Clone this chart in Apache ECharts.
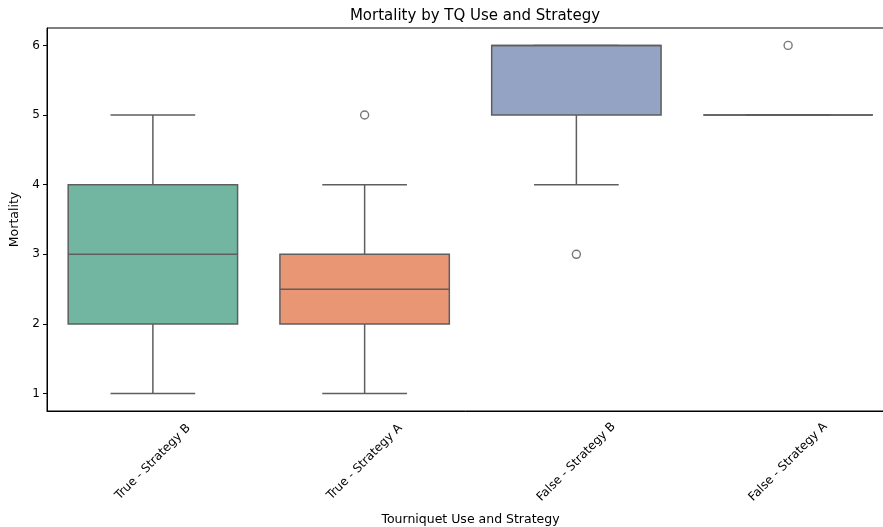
<!DOCTYPE html>
<html>
<head>
<meta charset="utf-8">
<script src="https://cdn.jsdelivr.net/npm/echarts@6/dist/echarts.min.js"></script>
<style>html,body{margin:0;padding:0;background:#fff;}#c{width:883px;height:527px;}</style>
</head>
<body>
<div id="c"></div>
<script>
const categories = ['True - Strategy B', 'True - Strategy A', 'False - Strategy B', 'False - Strategy A'];
const whiskerLow = [1, 1, 4, 5];
const q1 = [2, 2, 5, 5];
const median = [3, 2.5, 6, 5];
const q3 = [4, 3, 6, 5];
const whiskerHigh = [5, 4, 6, 5];
const outliers = [[1, 5], [2, 3], [3, 6]];
const yTicks = [1, 2, 3, 4, 5, 6];
const colors = ['#72b6a1', '#e99675', '#94a3c3', '#d492b8'];

const boxData = categories.map((c, i) => [i, whiskerLow[i], q1[i], median[i], q3[i], whiskerHigh[i]]);
const edge = '#5e5e5e';
const font = 'DejaVu Sans';

const chart = echarts.init(document.getElementById('c'), null, {renderer: 'canvas'});
chart.setOption({
  animation: false,
  backgroundColor: '#fff',
  title: {
    text: 'Mortality by TQ Use and Strategy',
    left: 470, top: 4, textAlign: 'center',
    textStyle: {fontFamily: font, fontSize: 15, fontWeight: 'normal', color: '#000'}
  },
  grid: {left: 47, top: 28, width: 847, height: 383, containLabel: false, outerBoundsMode: 'none',
    show: true, borderColor: '#000', borderWidth: 1, backgroundColor: 'transparent'},
  xAxis: {
    type: 'category', data: categories,
    name: 'Tourniquet Use and Strategy', nameLocation: 'middle', nameGap: 102,
    nameTextStyle: {fontFamily: font, fontSize: 12.5, color: '#000'},
    axisLine: {lineStyle: {color: '#000', width: 1}},
    axisTick: {alignWithLabel: true, length: 4, lineStyle: {color: '#000'}},
    axisLabel: {rotate: 45, align: 'center', verticalAlign: 'middle', fontFamily: font, fontSize: 12,
      color: '#000', margin: 51, interval: 0},
    splitLine: {show: false}
  },
  yAxis: {
    type: 'value', min: 0.75, max: 6.25,
    name: 'Mortality', nameLocation: 'middle', nameGap: 20,
    nameTextStyle: {fontFamily: font, fontSize: 12.5, color: '#000'},
    axisLine: {show: true, lineStyle: {color: '#000', width: 1}},
    axisTick: {show: true, length: 4, customValues: yTicks, lineStyle: {color: '#000'}},
    axisLabel: {fontFamily: font, fontSize: 12, color: '#000', margin: 7, customValues: yTicks},
    splitLine: {show: false}
  },
  series: [
    {
      type: 'custom',
      data: boxData,
      encode: {x: 0, y: [1, 2, 3, 4, 5]},
      renderItem: function (params, api) {
        const i = api.value(0);
        const lo = api.coord([i, api.value(1)]);
        const b1 = api.coord([i, api.value(2)]);
        const md = api.coord([i, api.value(3)]);
        const b3 = api.coord([i, api.value(4)]);
        const hi = api.coord([i, api.value(5)]);
        const bw = api.size([1, 0])[0] * 0.8;
        const cx = lo[0];
        const ls = {stroke: edge, lineWidth: 1.5};
        return {
          type: 'group',
          children: [
            {type: 'line', shape: {x1: cx, y1: lo[1], x2: cx, y2: b1[1]}, style: ls},
            {type: 'line', shape: {x1: cx, y1: b3[1], x2: cx, y2: hi[1]}, style: ls},
            {type: 'line', shape: {x1: cx - bw / 4, y1: lo[1], x2: cx + bw / 4, y2: lo[1]}, style: ls},
            {type: 'line', shape: {x1: cx - bw / 4, y1: hi[1], x2: cx + bw / 4, y2: hi[1]}, style: ls},
            {type: 'rect', shape: {x: cx - bw / 2, y: b3[1], width: bw, height: b1[1] - b3[1]},
              style: {fill: colors[params.dataIndex], stroke: edge, lineWidth: 1.5}},
            {type: 'line', shape: {x1: cx - bw / 2, y1: md[1], x2: cx + bw / 2, y2: md[1]}, style: ls}
          ]
        };
      }
    },
    {
      type: 'scatter',
      data: outliers,
      symbol: 'circle', symbolSize: 8,
      itemStyle: {color: '#fff', borderColor: '#555', borderWidth: 1.4},
      z: 5
    }
  ]
});
</script>
</body>
</html>
